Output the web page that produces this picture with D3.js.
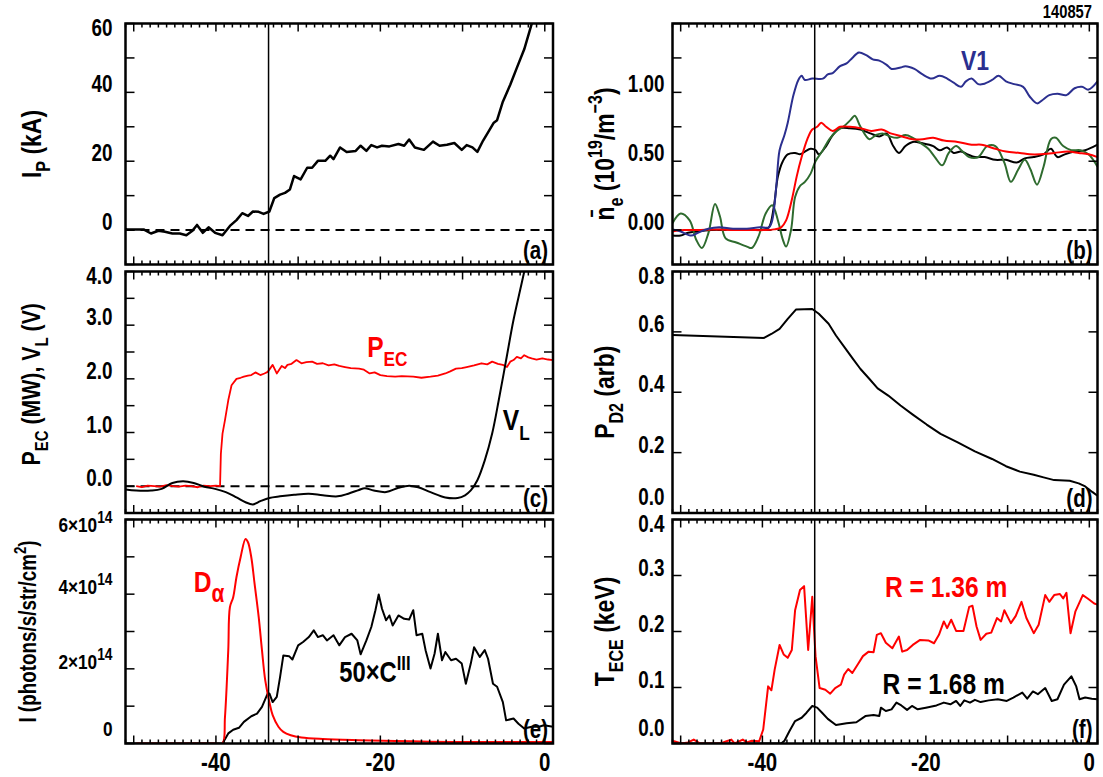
<!DOCTYPE html>
<html>
<head>
<meta charset="utf-8">
<script src="https://cdn.jsdelivr.net/npm/d3@7"></script>
<style>
  body { margin: 0; background: #fff; }
  svg text { font-family: "Liberation Sans", Arial, Helvetica, sans-serif; font-weight: bold; }
</style>
</head>
<body>
<svg id="chart" width="1103" height="777"></svg>
<script>
// time axis shared by all panels (ms)
const tDomain = [-51, 1];
const tMarker = -33.6;
const xTickLabels = [-40, -20, 0];

// (a) plasma current, kA
const ipT = [-51,-50.8,-48.8,-47.9,-47,-46.2,-45.3,-44.4,-43.6,-42.9,-42.3,-41.6,-40.9,-40.1,-39.2,-38.3,-37.5,-36.8,-36.1,-35.5,-34.8,-34.2,-33.5,-32.9,-32.2,-31.6,-31.0,-30.5,-29.7,-28.9,-28.3,-27.6,-26.7,-26.1,-25.7,-24.9,-24.1,-23.0,-22.4,-21.7,-21.1,-20.4,-19.8,-18.9,-17.8,-17.1,-16.5,-15.8,-14.7,-13.6,-12.8,-11.9,-11.0,-10.1,-9.5,-8.8,-8.2,-7.5,-6.9,-6.2,-5.8,-5.1,-4.2,-3.4,-2.5,-1.6,-1.2];
const ipV = [0.3,0.2,0.2,-1,-0.2,-0.5,-1,-1,-1.5,-0.3,1.5,-0.8,0.8,-0.8,-1.5,1.2,2.9,4.9,4.1,5.4,5.3,4.7,5.4,9.3,10.3,10.8,11.8,15.7,14.7,18.1,18.1,20.1,20.1,21.6,20.6,24,22.7,23,24.5,23,24.7,24,24.5,24.3,25,24.5,26.3,24,23.3,25.7,24.5,24.8,25.3,23.3,24.7,24,22.7,26,28.4,31.2,31.9,37.3,42.2,47.1,52.5,59.8,63];

// (b) line-averaged density, 1e19 m^-3 (four chords)
const neBlueT = [-51,-50,-48.7,-47.9,-46.6,-45.3,-43.6,-41.9,-40.3,-39.2,-38.8,-38.3,-37.9,-37.3,-36.9,-36.2,-35.6,-35.2,-34.8,-33.9,-32.6,-32.0,-31.4,-30.5,-29.7,-29.0,-28.2,-27.3,-26.5,-25.7,-24.8,-24.2,-23.1,-22.5,-21.4,-20.4,-19.3,-18.3,-17.4,-16.6,-15.7,-15.1,-14.4,-13.6,-13.0,-11.9,-11.1,-10.2,-9.2,-8.1,-7.3,-6.4,-5.6,-4.9,-3.9,-2.8,-1.8,-0.9,-0.1,1.0];
const neBlueV = [0.005,-0.01,-0.04,-0.02,0.01,0.02,0.01,0.01,0.02,0.02,0.07,0.32,0.58,0.69,0.78,0.98,1.09,1.12,1.09,1.10,1.10,1.13,1.14,1.19,1.21,1.25,1.29,1.27,1.24,1.23,1.20,1.17,1.18,1.19,1.17,1.13,1.10,1.12,1.10,1.07,1.04,1.08,1.10,1.06,1.06,1.09,1.12,1.08,1.06,1.04,0.97,0.92,0.95,0.98,0.99,0.98,1.03,1.04,1.02,1.08];
const neRedT = [-51,-49.6,-47.9,-45.8,-43.6,-41.5,-39.8,-38.6,-37.7,-37.1,-36.4,-35.8,-35.2,-34.5,-33.9,-33.3,-32.8,-32.2,-31.4,-30.5,-29.3,-28.0,-26.7,-25.4,-24.2,-22.9,-21.6,-20.4,-19.1,-17.8,-16.1,-14.4,-13.2,-11.5,-10.2,-8.5,-7.3,-6.0,-4.3,-2.6,-1.3,-0.1,1.0];
const neRedV = [-0.01,0,0,0.005,0,0,0,0.005,0.02,0.07,0.22,0.39,0.53,0.66,0.73,0.75,0.78,0.75,0.72,0.75,0.75,0.74,0.72,0.73,0.70,0.68,0.66,0.66,0.67,0.65,0.64,0.62,0.62,0.59,0.57,0.56,0.55,0.55,0.56,0.57,0.56,0.55,0.53];
const neBlackT = [-51,-50,-49.1,-47.9,-46.2,-44.5,-42.8,-41.1,-39.8,-39.2,-38.6,-38.1,-37.5,-36.9,-36.0,-35.4,-34.8,-34.1,-33.5,-33.1,-32.2,-31.4,-30.5,-29.3,-28.0,-26.7,-25.7,-24.8,-24.0,-23.3,-22.5,-21.6,-20.4,-19.1,-18.3,-17.4,-16.6,-15.7,-14.9,-14.0,-12.8,-11.5,-10.2,-8.9,-7.9,-6.8,-5.6,-4.7,-3.9,-3.0,-1.8,-0.5,1.0];
const neBlackV = [-0.04,-0.04,-0.02,-0.01,0,0.005,0.005,0,0.005,0.02,0.17,0.39,0.50,0.55,0.56,0.55,0.57,0.59,0.58,0.55,0.61,0.69,0.74,0.74,0.73,0.70,0.68,0.70,0.61,0.56,0.61,0.64,0.63,0.61,0.58,0.60,0.56,0.57,0.55,0.53,0.53,0.51,0.51,0.49,0.52,0.53,0.55,0.59,0.53,0.55,0.57,0.58,0.62];
const neGreenT = [-51,-50,-48.9,-48.1,-47.4,-46.6,-45.8,-45.2,-44.5,-43.2,-41.9,-41.3,-40.5,-39.6,-38.8,-38.1,-37.5,-37.1,-36.5,-36.0,-35.4,-34.8,-34.1,-33.5,-32.6,-31.8,-30.9,-30.1,-29.2,-28.7,-28.0,-26.9,-26.1,-25.2,-24.4,-23.5,-22.5,-21.6,-20.6,-19.7,-18.9,-18.0,-17.2,-16.3,-15.5,-14.7,-13.6,-12.5,-11.5,-10.4,-9.6,-8.7,-7.9,-7.2,-6.4,-5.6,-4.7,-4.1,-3.2,-2.2,-1.1,-0.1,1.0];
const neGreenV = [0.05,0.12,0.07,-0.07,-0.13,-0.02,0.19,0.10,-0.06,-0.09,-0.12,-0.13,-0.05,0.12,0.18,0.07,-0.07,-0.12,0,0.24,0.32,0.35,0.41,0.50,0.58,0.66,0.72,0.75,0.80,0.83,0.75,0.66,0.69,0.70,0.68,0.67,0.69,0.67,0.63,0.59,0.53,0.47,0.56,0.61,0.57,0.53,0.53,0.61,0.61,0.49,0.35,0.44,0.51,0.44,0.33,0.46,0.66,0.67,0.61,0.58,0.58,0.55,0.46];

// (c) EC power (MW) and loop voltage (V)
const pecT = [-49.7,-49.0,-48.3,-47.5,-46.8,-46.0,-45.2,-44.5,-43.7,-43.0,-42.2,-41.5,-40.7,-40.0,-39.5,-39.4,-39.2,-38.9,-38.5,-38.1,-37.5,-37.0,-36.6,-36.1,-35.7,-35.2,-34.6,-34.1,-33.7,-33.1,-32.6,-32.0,-31.6,-31.3,-30.8,-30.2,-29.6,-29.0,-28.3,-27.7,-27.0,-26.3,-25.6,-25.0,-24.3,-23.6,-22.6,-22.0,-21.3,-20.7,-20.0,-19.2,-18.2,-17.4,-16.0,-15.0,-13.9,-13.0,-12.1,-11.5,-10.8,-10.1,-9.5,-8.6,-7.7,-7.0,-6.4,-5.7,-5.1,-4.6,-4.2,-3.8,-3.4,-2.9,-2.5,-2.0,-1.6,-1.0,-0.3,0.4,1.0];
const pecV = [0.0,-0.02,0.01,0.0,-0.01,0.02,0.0,-0.01,0.01,0.0,-0.02,0.01,0.0,0.01,0.0,0.6,0.98,1.23,1.6,1.88,2.0,2.02,2.04,2.06,2.07,2.12,2.07,2.1,2.13,2.26,2.1,2.24,2.2,2.26,2.28,2.35,2.29,2.31,2.32,2.28,2.29,2.25,2.27,2.24,2.22,2.2,2.19,2.17,2.1,2.12,2.07,2.05,2.04,2.05,2.04,2.02,2.04,2.06,2.1,2.14,2.19,2.2,2.22,2.25,2.29,2.27,2.32,2.28,2.26,2.22,2.32,2.35,2.41,2.38,2.44,2.4,2.38,2.36,2.38,2.36,2.35];
const vlT = [-51,-49.7,-47.9,-46.6,-45.3,-44.0,-42.7,-41.4,-40.1,-38.8,-37.5,-36.4,-35.5,-34.6,-33.5,-32.2,-30.5,-28.7,-27.0,-25.2,-23.9,-22.6,-21.9,-20.8,-19.3,-17.8,-16.5,-15.4,-13.9,-12.1,-10.6,-9.7,-9.0,-8.2,-7.3,-6.4,-5.6,-4.7,-3.8,-2.9,-2.2];
const vlV = [-0.06,-0.08,-0.08,-0.05,0.06,0.09,0.06,-0.01,-0.05,-0.11,-0.21,-0.30,-0.34,-0.28,-0.22,-0.19,-0.16,-0.14,-0.17,-0.19,-0.14,-0.07,-0.04,-0.08,-0.11,-0.03,0.01,-0.02,-0.11,-0.21,-0.22,-0.17,-0.08,0.11,0.48,0.98,1.60,2.35,3.10,3.72,4.2];

// (d) D2 pressure, arb
const pd2T = [-51,-39.8,-38.9,-37.9,-36.9,-35.9,-33.9,-33.1,-31.9,-31.0,-29.9,-28.9,-28.0,-26.9,-25.9,-24.6,-23.1,-21.6,-19.9,-18.2,-16.1,-14.0,-11.9,-10.2,-8.5,-6.8,-5.6,-4.3,-2.4,-1.3,-0.5,0.4,1.0];
const pd2V = [0.590,0.580,0.593,0.610,0.643,0.674,0.676,0.660,0.627,0.588,0.547,0.510,0.477,0.444,0.413,0.389,0.356,0.326,0.293,0.262,0.234,0.204,0.179,0.155,0.137,0.127,0.118,0.109,0.107,0.098,0.088,0.069,0.057];

// (e) line intensities, photons/s/str/cm^2 (units of 1e14)
const daT = [-49.7,-45,-40,-39.2,-38.9,-38.5,-38.3,-37.9,-37.5,-37.0,-36.4,-36.1,-35.7,-35.3,-34.8,-34.4,-34.0,-33.5,-33.1,-32.4,-31.8,-30.9,-29.6,-27.0,-22.6,-18.2,-13.9,-9.5,-5.1,1.0];
const daV = [0,0,0,0,0.71,2.5,3.65,3.92,4.46,4.99,5.48,5.39,4.99,4.28,3.39,2.50,1.69,1.11,0.76,0.45,0.31,0.22,0.16,0.12,0.09,0.07,0.05,0.04,0.04,0.04];
const ciiiT = [-51,-45,-39.2,-38.5,-37.9,-37.2,-36.6,-35.7,-35.0,-34.4,-33.7,-33.5,-33.1,-32.6,-32.2,-31.8,-31.1,-30.7,-30.0,-29.4,-28.7,-28.1,-27.6,-27.0,-26.5,-25.7,-25.0,-24.3,-23.5,-22.8,-22.4,-21.7,-21.1,-20.6,-20.2,-19.8,-19.3,-18.9,-18.5,-17.8,-17.1,-16.5,-16.0,-15.6,-14.9,-14.5,-13.9,-13.4,-13.0,-12.5,-12.1,-11.4,-10.8,-10.1,-9.6,-9.0,-8.6,-7.9,-7.3,-6.9,-6.3,-5.8,-5.1,-4.7,-3.8,-3.2,-2.5,-1.6,-0.7,-0.1,1.0];
const ciiiV = [0,0,0,0.27,0.37,0.42,0.58,0.73,0.80,0.98,1.34,1.34,1.11,1.25,1.78,2.36,2.34,2.25,2.63,2.72,2.85,3.03,2.85,2.90,2.76,2.90,2.63,2.85,2.94,2.76,2.39,2.76,3.12,3.57,3.99,3.61,3.30,3.43,3.16,3.43,3.34,3.32,3.57,2.90,2.94,2.50,2.01,2.41,2.94,2.23,2.45,2.23,2.27,2.14,1.60,2.14,2.58,2.32,2.50,2.27,1.60,1.52,1.11,0.62,0.67,0.53,0.40,0.45,0.45,0.49,0.45];

// (f) ECE temperature, keV
const teInT = [-51,-50.8,-49.9,-49.1,-48.4,-47.6,-45.1,-44.4,-43.8,-43.4,-42.4,-41.9,-41.3,-40.4,-39.9,-39.3,-38.9,-38.5,-37.9,-37.4,-36.9,-36.4,-36.0,-35.4,-34.9,-34.4,-33.9,-33.5,-33.0,-32.3,-31.7,-31.1,-30.4,-30.0,-29.5,-29.0,-28.3,-27.7,-27.0,-26.4,-26.0,-25.5,-24.9,-24.1,-23.3,-22.9,-22.3,-21.6,-20.7,-19.7,-19.0,-18.4,-17.8,-17.4,-16.9,-16.3,-15.4,-14.7,-14.3,-13.8,-13.3,-12.6,-12.0,-11.3,-10.8,-10.4,-9.6,-9.0,-8.3,-7.7,-6.8,-6.2,-5.4,-4.9,-4.3,-3.6,-3.2,-2.8,-2.3,-1.7,-0.8,-0.2,0.6,1.0];
const teInV = [0.003,0.004,0,0.002,0.007,0,0,0.004,0.007,0,0.007,0.002,0.005,0.004,0.025,0.102,0.095,0.132,0.176,0.159,0.153,0.167,0.238,0.274,0.281,0.167,0.262,0.156,0.099,0.096,0.089,0.099,0.105,0.123,0.133,0.126,0.142,0.156,0.164,0.163,0.194,0.197,0.180,0.170,0.191,0.164,0.167,0.176,0.185,0.184,0.179,0.194,0.218,0.206,0.221,0.201,0.201,0.244,0.246,0.209,0.185,0.196,0.198,0.224,0.218,0.238,0.215,0.228,0.253,0.224,0.197,0.212,0.265,0.253,0.265,0.267,0.259,0.269,0.197,0.236,0.265,0.259,0.250,0.248];
const teOutT = [-51,-37.7,-37.3,-36.7,-36.0,-35.2,-34.6,-33.9,-33.3,-32.7,-32.0,-31.0,-29.7,-28.5,-27.4,-26.4,-25.7,-25.5,-24.9,-24.2,-23.6,-23.0,-22.3,-21.7,-21.0,-20.0,-18.7,-17.8,-17.0,-16.3,-15.8,-15.3,-14.6,-14.0,-13.3,-12.3,-11.2,-10.1,-9.3,-8.2,-7.6,-6.9,-6.3,-5.4,-4.6,-3.9,-3.1,-2.2,-1.6,-1.2,-0.5,0.3,1.0];
const teOutV = [0,0,0.005,0.022,0.040,0.046,0.055,0.067,0.064,0.055,0.044,0.033,0.036,0.038,0.049,0.051,0.049,0.064,0.058,0.061,0.073,0.068,0.060,0.067,0.061,0.064,0.068,0.073,0.070,0.076,0.067,0.077,0.073,0.078,0.074,0.077,0.079,0.076,0.082,0.091,0.080,0.093,0.088,0.099,0.076,0.079,0.105,0.120,0.102,0.079,0.082,0.080,0.079];

const RED = "#ff0000", BLUE = "#2b2f8f", GREEN = "#2e6b2e";
const NARROW = 0.82; // squeeze Liberation Sans into a narrow face

const svg = d3.select("#chart");
const colX = { L: [125.5, 553], R: [672.5, 1097.5] };
const rowY = [[23.5, 264.5], [271.5, 513], [519.5, 743.5]];

function zip(ts, vs) { return ts.map((t, i) => [t, vs[i]]); }

// narrow bold text at (x, y), optionally rotated
function label(g, x, y, size, anchor, rot) {
  const tf = `translate(${x},${y})` + (rot ? ` rotate(${rot})` : "") + ` scale(${NARROW},1)`;
  return g.append("text").attr("transform", tf)
    .attr("font-size", size).attr("text-anchor", anchor || "start");
}

// write text made of parts: [string, "sub"|"sup"|"", relative size]
function rich(textSel, parts, size) {
  let shift = 0;
  parts.forEach(([s, kind, rel]) => {
    const target = kind === "sub" ? size * 0.32 : kind === "sup" ? -size * 0.42 : 0;
    const ts = textSel.append("tspan").text(s).attr("dy", target - shift);
    shift = target;
    if (kind) ts.attr("font-size", size * (rel || 0.7));
  });
}

let clipId = 0;
function makePanel(opt) {
  const [x0, x1] = colX[opt.col];
  const [y0, y1] = rowY[opt.row];
  const x = d3.scaleLinear().domain(tDomain).range([x0, x1]);
  const y = d3.scaleLinear().domain(opt.yDomain).range([y1, y0]);
  const g = svg.append("g");

  const cid = "clip" + (clipId++);
  svg.append("clipPath").attr("id", cid).append("rect")
    .attr("x", x0).attr("y", y0).attr("width", x1 - x0).attr("height", y1 - y0);
  const plot = g.append("g").attr("clip-path", `url(#${cid})`);

  if (opt.zeroLine) {
    plot.append("line").attr("x1", x0).attr("x2", x1).attr("y1", y(0)).attr("y2", y(0))
      .attr("stroke", "#000").attr("stroke-width", 2).attr("stroke-dasharray", "9,6");
  }

  opt.series.forEach(s => {
    const line = d3.line().x(d => x(d[0])).y(d => y(d[1]))
      .curve(s.smooth ? d3.curveCatmullRom : d3.curveLinear);
    plot.append("path").datum(zip(s.t, s.v)).attr("d", line)
      .attr("fill", "none").attr("stroke", s.color).attr("stroke-width", s.width || 2)
      .attr("stroke-linejoin", "round");
  });

  // marker at start of breakdown
  g.append("line").attr("x1", x(tMarker)).attr("x2", x(tMarker)).attr("y1", y0).attr("y2", y1)
    .attr("stroke", "#000").attr("stroke-width", 1.5);

  // x ticks (inward, top and bottom)
  d3.range(-51, 1.5, 1).forEach(t => {
    const len = (t % 10 === 0) ? 8 : 4;
    g.append("line").attr("x1", x(t)).attr("x2", x(t)).attr("y1", y1).attr("y2", y1 - len)
      .attr("stroke", "#000").attr("stroke-width", 1.5);
    g.append("line").attr("x1", x(t)).attr("x2", x(t)).attr("y1", y0).attr("y2", y0 + len)
      .attr("stroke", "#000").attr("stroke-width", 1.5);
  });
  // y ticks (inward, left and right)
  opt.yTicks.forEach(v => {
    g.append("line").attr("x1", x0).attr("x2", x0 + 9).attr("y1", y(v)).attr("y2", y(v))
      .attr("stroke", "#000").attr("stroke-width", 1.5);
    g.append("line").attr("x1", x1).attr("x2", x1 - 9).attr("y1", y(v)).attr("y2", y(v))
      .attr("stroke", "#000").attr("stroke-width", 1.5);
  });
  const size = opt.labelSize || 23;
  const gap = opt.col === "L" ? 13 : 8;
  opt.yLabels.forEach(([v, parts]) => {
    const yy = Math.max(y0 + 12, Math.min(y1 - 8, y(v)));
    const tx = label(g, x0 - gap, yy, size, "end").attr("dy", "0.36em");
    rich(tx, parts, size);
  });

  // frame
  g.append("rect").attr("x", x0).attr("y", y0).attr("width", x1 - x0).attr("height", y1 - y0)
    .attr("fill", "none").attr("stroke", "#000").attr("stroke-width", 2.5);

  // axis title (rotated)
  const ts = opt.titleSize;
  const tt = label(g, opt.titleX, (y0 + y1) / 2 + (opt.titleShift || 0), ts, "middle", -90);
  rich(tt, opt.title, ts);

  // panel tag
  label(g, x1 - 5, y1 - 6, 25, "end").text(opt.tag);

  // annotations in data coordinates
  (opt.notes || []).forEach(n => {
    const tx = label(g, x(n.t), y(n.v), n.size, "start").attr("fill", n.color);
    rich(tx, n.parts, n.size);
  });

  if (opt.row === 2) {
    xTickLabels.forEach(t => {
      label(g, x(t), y1 + 27, 25, "middle").text(t === 0 ? "0" : "-" + Math.abs(t));
    });
  }
  return { x, y };
}

makePanel({
  col: "L", row: 0, yDomain: [-10, 60], zeroLine: true,
  yTicks: [-10, 0, 10, 20, 30, 40, 50, 60],
  yLabels: [[0, [["0"]]], [20, [["20"]]], [40, [["40"]]], [60, [["60"]]]],
  title: [["I"], ["P", "sub"], [" (kA)", ""]], titleX: 41, titleSize: 28, tag: "(a)",
  series: [{ t: ipT, v: ipV, color: "#000", width: 2.5 }]
});

makePanel({
  col: "R", row: 0, yDomain: [-0.25, 1.5], zeroLine: true,
  yTicks: [-0.25, 0, 0.25, 0.5, 0.75, 1.0, 1.25, 1.5],
  yLabels: [[0, [["0.00"]]], [0.5, [["0.50"]]], [1.0, [["1.00"]]]],
  title: [["n\u0304"], ["e", "sub"], [" (10", ""], ["19", "sup"], ["/m", ""], ["\u22123", "sup"], [")", ""]],
  titleX: 614, titleSize: 28, titleShift: 10, tag: "(b)",
  series: [
    { t: neBlackT, v: neBlackV, color: "#000", smooth: true },
    { t: neGreenT, v: neGreenV, color: GREEN, smooth: true },
    { t: neRedT, v: neRedV, color: RED, smooth: true },
    { t: neBlueT, v: neBlueV, color: BLUE, smooth: true }
  ],
  notes: [{ t: -15.7, v: 1.16, size: 28, color: BLUE, parts: [["V1"]] }]
});

makePanel({
  col: "L", row: 1, yDomain: [-0.5, 4.0], zeroLine: true,
  yTicks: [-0.5, 0, 0.5, 1, 1.5, 2, 2.5, 3, 3.5, 4],
  yLabels: [[0, [["0.0"]]], [1, [["1.0"]]], [2, [["2.0"]]], [3, [["3.0"]]], [4, [["4.0"]]]],
  title: [["P"], ["EC", "sub"], [" (MW), V", ""], ["L", "sub"], [" (V)", ""]], titleX: 40, titleSize: 26, titleShift: -8, tag: "(c)",
  series: [
    { t: pecT, v: pecV, color: RED, width: 1.8 },
    { t: vlT, v: vlV, color: "#000", smooth: true }
  ],
  notes: [
    { t: -21.6, v: 2.41, size: 30, color: RED, parts: [["P"], ["EC", "sub"]] },
    { t: -5.1, v: 1.04, size: 30, color: "#000", parts: [["V"], ["L", "sub"]] }
  ]
});

makePanel({
  col: "R", row: 1, yDomain: [0, 0.8],
  yTicks: [0, 0.2, 0.4, 0.6, 0.8],
  yLabels: [[0, [["0.0"]]], [0.2, [["0.2"]]], [0.4, [["0.4"]]], [0.6, [["0.6"]]], [0.8, [["0.8"]]]],
  title: [["P"], ["D2", "sub"], [" (arb)", ""]], titleX: 614, titleSize: 28, tag: "(d)",
  series: [{ t: pd2T, v: pd2V, color: "#000" }]
});

makePanel({
  col: "L", row: 2, yDomain: [0, 6],
  yTicks: [0, 1, 2, 3, 4, 5, 6],
  yLabels: [[0, [["0"]]], [2, [["2\u00d710"], ["14", "sup", 0.8]]], [4, [["4\u00d710"], ["14", "sup", 0.8]]], [6, [["6\u00d710"], ["14", "sup", 0.8]]]],
  labelSize: 21,
  title: [["I (photons/s/str/cm"], ["2", "sup"], [")", ""]], titleX: 36, titleSize: 23, tag: "(e)",
  series: [
    { t: ciiiT, v: ciiiV, color: "#000" },
    { t: daT, v: daV, color: RED, smooth: true }
  ],
  notes: [
    { t: -42.7, v: 4.06, size: 30, color: RED, parts: [["D"], ["\u03b1", "sub", 0.85]] },
    { t: -25.0, v: 1.65, size: 29, color: "#000", parts: [["50\u00d7C"], ["III", "sup"]] }
  ]
});

makePanel({
  col: "R", row: 2, yDomain: [0, 0.4],
  yTicks: [0, 0.1, 0.2, 0.3, 0.4],
  yLabels: [[0, [["0.0"]]], [0.1, [["0.1"]]], [0.2, [["0.2"]]], [0.3, [["0.3"]]], [0.4, [["0.4"]]]],
  title: [["T"], ["ECE", "sub"], [" (keV)", ""]], titleX: 614, titleSize: 28, tag: "(f)",
  series: [
    { t: teOutT, v: teOutV, color: "#000" },
    { t: teInT, v: teInV, color: RED }
  ],
  notes: [
    { t: -25.0, v: 0.262, size: 30, color: RED, parts: [["R = 1.36 m"]] },
    { t: -25.3, v: 0.089, size: 30, color: "#000", parts: [["R = 1.68 m"]] }
  ]
});

label(svg, 1092, 18, 18, "end").text("140857");
</script>
</body>
</html>
